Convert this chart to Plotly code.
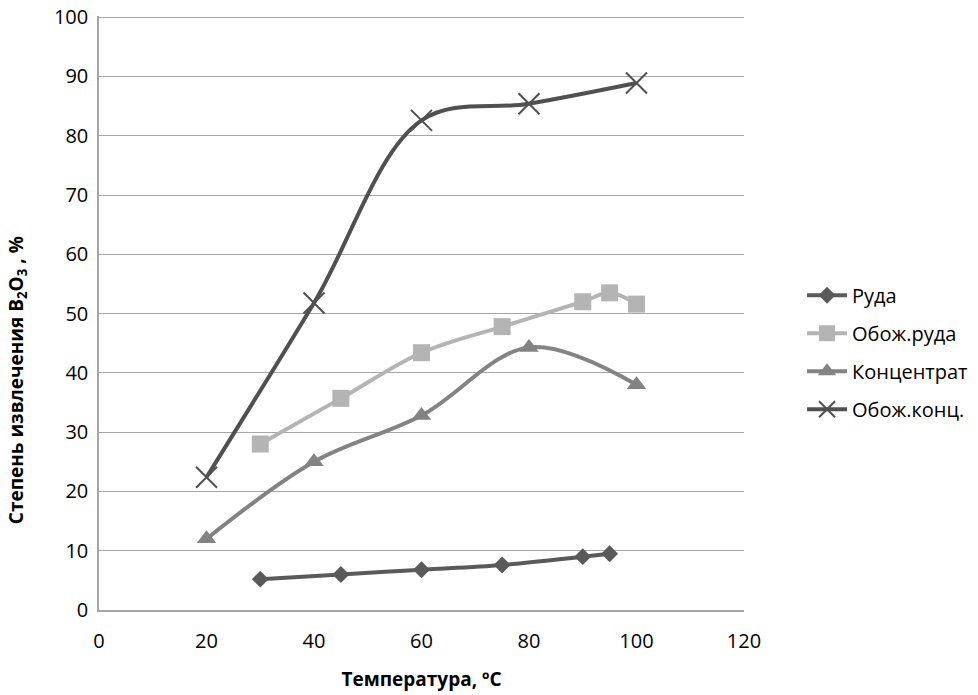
import plotly.graph_objects as go

x_ruda = [30, 45, 60, 75, 90, 95]
y_ruda = [5.2, 6.0, 6.8, 7.6, 9.0, 9.5]

x_obruda = [30, 45, 60, 75, 90, 95, 100]
y_obruda = [28.0, 35.7, 43.4, 47.8, 52.0, 53.5, 51.6]

x_konc = [20, 40, 60, 80, 100]
y_konc = [12.0, 25.0, 32.8, 44.3, 38.0]

x_obkonc = [20, 40, 60, 80, 100]
y_obkonc = [22.4, 51.8, 82.6, 85.4, 88.9]

x_ticks = [0, 20, 40, 60, 80, 100, 120]
y_ticks = [0, 10, 20, 30, 40, 50, 60, 70, 80, 90, 100]

FONT = "Open Sans, Noto Sans, sans-serif"
SM = 1.0

fig = go.Figure()
fig.add_trace(go.Scatter(
    x=x_ruda, y=y_ruda, name="Руда", mode="lines+markers", legendgroup="a",
    line=dict(color="#5a5a5a", width=4, shape="spline", smoothing=SM),
    marker=dict(symbol="diamond", size=13, color="#5a5a5a")))
fig.add_trace(go.Scatter(
    x=x_obruda, y=y_obruda, name="Обож.руда", mode="lines+markers", legendgroup="b",
    line=dict(color="#b4b4b4", width=4, shape="spline", smoothing=SM),
    marker=dict(symbol="square", size=17, color="#b4b4b4")))
fig.add_trace(go.Scatter(
    x=x_konc, y=y_konc, name="Концентрат", mode="lines+markers", legendgroup="c",
    line=dict(color="#838383", width=4, shape="spline", smoothing=SM),
    marker=dict(symbol="triangle-up", size=17, color="#838383")))
fig.add_trace(go.Scatter(
    x=x_obkonc, y=y_obkonc, name="Обож.конц.", mode="lines+markers", legendgroup="d",
    line=dict(color="#505050", width=4, shape="spline", smoothing=SM),
    marker=dict(symbol="x-thin-open", size=21, color="#505050",
                line=dict(color="#505050", width=2))))

fig.update_layout(
    width=978, height=695,
    margin=dict(l=99, r=234, t=16, b=85, autoexpand=False),
    paper_bgcolor="white", plot_bgcolor="white",
    font=dict(family=FONT, color="#000000", size=20),
    showlegend=True,
    legend=dict(x=1.09, y=0.434, xanchor="left", yanchor="middle",
                font=dict(size=20, family=FONT), bgcolor="rgba(0,0,0,0)",
                itemwidth=40, tracegroupgap=9),
    xaxis=dict(range=[0, 120], tickvals=x_ticks, showgrid=False, automargin=False,
               zeroline=False, showline=True, linecolor="#a6a6a6", linewidth=1.5,
               ticks="", tickfont=dict(size=20), ticklabelstandoff=12,
               title=dict(text="<b>Температура, ºC</b>", font=dict(size=19), standoff=20)),
    yaxis=dict(range=[0, 100.2], tickvals=y_ticks, showgrid=True, gridcolor="#a6a6a6",
               gridwidth=1.3, zeroline=False, showline=True, linecolor="#a6a6a6",
               linewidth=1.5, ticks="", tickfont=dict(size=20), ticklabelstandoff=5,
               automargin=False),
    annotations=[dict(
        text="<b>Степень извлечения B<sub>2</sub>O<sub>3</sub> , %</b>",
        xref="paper", yref="paper", x=-0.127, y=0.387, xanchor="center",
        yanchor="middle", textangle=-90, showarrow=False,
        font=dict(size=19, family=FONT))],
)

fig.write_html("out.html", config={"displayModeBar": False},
               post_script="document.body.style.margin='0px';document.body.style.overflow='hidden';")
